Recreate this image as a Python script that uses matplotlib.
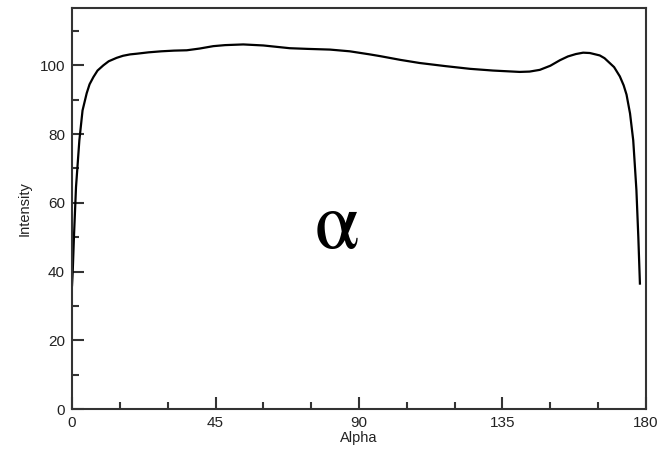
import numpy as np
import matplotlib
matplotlib.use("Agg")
import matplotlib.pyplot as plt
from matplotlib.ticker import MultipleLocator

plt.rcParams['font.family'] = ['Liberation Sans', 'DejaVu Sans']
plt.rcParams['mathtext.fontset'] = 'stix'

# intensity profile vs. alpha angle
alpha = [0.0, 0.2, 0.6, 1.25, 2.3, 3.3, 4.6, 5.5, 6.7, 8.0, 9.8, 11.5, 14.0, 16.0,
         18.2, 20.3, 24.0, 28.0, 32.0, 36.0, 40.0, 44.3, 48.0, 53.7, 60.0, 68.3,
         74.0, 80.9, 87.1, 93.4, 96.6, 103.0, 109.0, 117.0, 124.8, 132.0, 140.4,
         143.5, 146.7, 150.0, 153.0, 155.5, 158.0, 160.3, 162.4, 165.5, 167.0,
         168.5, 170.0, 171.8, 173.0, 173.9, 175.0, 176.0, 176.5, 177.0, 177.6,
         178.1]
intensity = [36.0, 39.5, 50.0, 64.6, 78.2, 86.9, 91.9, 94.5, 96.6, 98.5, 100.0,
             101.2, 102.2, 102.8, 103.2, 103.4, 103.8, 104.1, 104.3, 104.4, 104.9,
             105.6, 105.9, 106.1, 105.8, 105.0, 104.8, 104.6, 104.1, 103.2, 102.7,
             101.6, 100.7, 99.8, 99.0, 98.5, 98.1, 98.2, 98.7, 99.9, 101.5, 102.6,
             103.3, 103.7, 103.6, 102.9, 102.1, 100.8, 99.5, 96.8, 94.2, 91.5, 86.0,
             78.2, 71.0, 63.7, 50.0, 36.5]

fig = plt.figure(figsize=(6.62, 4.5), dpi=100)
ax = fig.add_axes([0.1088, 0.0911, 0.867, 0.8911])

ax.plot(alpha, intensity, color='black', lw=1.6)

ax.set_xlim(0, 180)
ax.set_ylim(0, 116.7)
ax.xaxis.set_major_locator(MultipleLocator(45))
ax.xaxis.set_minor_locator(MultipleLocator(15))
ax.yaxis.set_major_locator(MultipleLocator(20))
ax.yaxis.set_minor_locator(MultipleLocator(10))

ax.tick_params(which='both', direction='in', top=False, right=False,
               width=1.5, color='#333333', labelsize=11, labelcolor='#222222')
ax.tick_params(which='major', length=8.5, pad=5)
ax.tick_params(which='minor', length=5)
for s in ax.spines.values():
    s.set_color('#333333')
    s.set_linewidth(1.5)

ax.set_xlabel('Alpha', fontsize=10.5, labelpad=1, color='#222222')
ax.set_ylabel('Intensity', fontsize=10.5, labelpad=6, color='#222222')

ax.text(0.46, 0.401, r'$\mathrm{\alpha}$', transform=ax.transAxes, ha='center',
        va='baseline', fontsize=58)

fig.savefig('out.png', dpi=100)
